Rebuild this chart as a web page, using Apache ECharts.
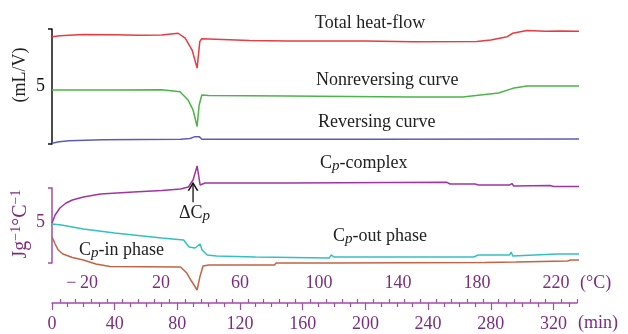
<!DOCTYPE html>
<html><head><meta charset="utf-8">
<script src="https://cdn.jsdelivr.net/npm/echarts@6/dist/echarts.min.js"></script>
<style>html,body{margin:0;padding:0;background:#fff}#c{width:628px;height:334px}</style>
</head><body><div id="c"></div>
<script>
const FONT = '"Liberation Serif", "DejaVu Serif", serif';
const PURPLE_TXT = '#7b2d7d';
const PURPLE_AX = '#a24ca8';

// Time axis (min) and temperature axis (°C)
const TIME_MAX = 335;
const TEMP_MIN = -35.2, TEMP_MAX = 230.6;
const timeTickLabels = [0, 40, 80, 120, 160, 200, 240, 280, 320];
const timeDownTicks = [10, 20, 30, 50, 60, 70, 90, 100, 110, 130, 140, 150, 170, 180, 190, 210, 220, 230, 250, 260, 270, 290, 300, 310, 330];
const timeUpTicks = [5, 15, 25, 35, 45, 55, 65, 75, 85, 95, 105, 115, 125, 135, 145, 155, 165, 175, 185, 195, 205, 215, 225, 235, 245, 255, 265, 275, 285, 295, 305, 315, 325, 335];
const tempTickLabels = [-20, 20, 60, 100, 140, 180, 220];

// Upper panel (mL/V)
const heatT = [0, 5, 20, 40, 55, 70, 80.5, 85, 89.4, 92.6, 94.3, 95.5, 100, 126, 150, 200, 230, 271, 280, 290.5, 294, 303, 315, 325, 337, 338];
const heatV = [9.33, 9.42, 9.52, 9.50, 9.45, 9.47, 9.63, 9.2, 8.17, 6.6, 8.9, 9.15, 9.13, 9.0, 8.95, 8.95, 8.9, 8.92, 9.05, 9.33, 9.63, 9.86, 9.8, 9.82, 9.8, 10.6];
const nonrevT = [0, 40, 70, 81.7, 86.8, 90, 92.6, 93.9, 95.6, 100, 150, 230, 262, 285, 294, 303, 337, 338];
const nonrevV = [4.70, 4.70, 4.72, 4.55, 3.83, 2.96, 1.52, 3.39, 4.26, 4.22, 4.17, 4.09, 4.09, 4.43, 4.84, 5.04, 5.04, 5.57];
const revT = [0, 4.5, 11, 32, 82, 88, 91.3, 93.9, 95.6, 100, 200, 338];
const revV = [0.06, 0.20, 0.29, 0.37, 0.41, 0.48, 0.64, 0.64, 0.42, 0.41, 0.41, 0.43];

// Lower panel (J g^-1 °C^-1)
const cpcT = [0, 2, 5, 9, 13, 20, 31, 52, 70, 82, 87, 90, 92.6, 94.5, 95.5, 97.7, 150, 252, 254, 270, 272, 292, 293.5, 294.5, 295.5, 318, 320, 337, 338];
const cpcV = [4.91, 5.89, 6.75, 7.36, 7.73, 8.10, 8.46, 8.71, 8.89, 9.08, 9.32, 10.18, 11.90, 9.57, 9.63, 9.81, 9.81, 9.90, 9.69, 9.69, 9.57, 9.57, 9.75, 9.45, 9.51, 9.51, 9.38, 9.38, 10.55];
const cpoT = [0, 6, 20, 40, 52, 70, 84, 87.5, 91.3, 94.5, 95.8, 99, 105, 130, 177, 178, 180, 269, 272, 292, 293, 294, 295, 322, 338];
const cpoV = [4.78, 4.66, 4.17, 3.68, 3.43, 3.07, 2.82, 1.96, 1.84, 2.33, 1.59, 0.98, 0.86, 0.74, 0.61, 0.98, 0.74, 0.74, 0.98, 0.98, 1.35, 0.86, 1.10, 1.10, 1.10];
const cpiT = [0, 2, 4, 7, 13, 20, 28, 37, 82, 86, 89, 92.6, 94.5, 96.4, 100, 142, 143, 177, 178, 276, 277, 296, 329, 331, 337, 338];
const cpiV = [3.19, 2.33, 1.59, 1.10, 0.67, 0.37, -0.12, -0.43, -0.49, -1.23, -2.21, -3.31, -1.59, -0.37, -0.25, -0.25, 0, 0, 0.06, 0.06, 0.12, 0.12, 0.25, 0.37, 0.37, -1.23];

// ΔCp arrow (time, value): tail, head
const dcpArrowT = [90, 90];
const dcpArrowV = [7.45, 9.78];

function pairs(t, v) { return t.map((x, i) => [x, v[i]]); }

const chart = echarts.init(document.getElementById('c'), null, { renderer: 'canvas' });

function lineSeries(name, t, v, color, xi, yi, extra) {
  return Object.assign({
    name, type: 'line', data: pairs(t, v), xAxisIndex: xi, yAxisIndex: yi,
    showSymbol: false, symbol: 'none', clip: false, animation: false, silent: true,
    lineStyle: { color, width: 1.5 }
  }, extra || {});
}

const subRich = (color) => ({
  n: { fontSize: 18, fontFamily: FONT, fill: color, color },
  p: { fontSize: 15, fontFamily: FONT, fontStyle: 'italic', fill: color, color, padding: [7, 0, 0, 0] }
});

function label(text, x, y, color, rich) {
  return { type: 'text', x, y, silent: true, style: { text, fontSize: 18, fontFamily: FONT, fill: color || '#222', verticalAlign: 'middle', align: 'left', rich: rich } };
}

const ARROW_HEAD = 'path://M0,10 L5,0 L10,10 L8.4,10 L5,3 L1.6,10 Z';

const option = {
  backgroundColor: '#fff',
  animation: false,
  grid: [
    { left: 52, right: 51, top: 29, height: 115 },
    { left: 52, right: 51, top: 188, height: 75 }
  ],
  xAxis: [
    { gridIndex: 0, type: 'value', min: 0, max: TIME_MAX, show: false },
    { gridIndex: 1, type: 'value', min: 0, max: TIME_MAX, position: 'bottom', offset: 40,
      axisLine: { show: true, onZero: false, lineStyle: { color: PURPLE_AX, width: 1.5 } },
      axisTick: { show: true, length: 7, customValues: timeTickLabels, lineStyle: { color: PURPLE_AX, width: 1.2 } },
      axisLabel: { customValues: timeTickLabels, color: PURPLE_TXT, fontSize: 18, fontFamily: FONT, margin: 12 },
      splitLine: { show: false } },
    { gridIndex: 1, type: 'value', min: 0, max: TIME_MAX, position: 'bottom', offset: 40,
      axisLine: { show: false, onZero: false },
      axisTick: { show: true, length: 4, customValues: timeDownTicks, lineStyle: { color: PURPLE_AX, width: 1.2 } },
      axisLabel: { show: false }, splitLine: { show: false } },
    { gridIndex: 1, type: 'value', min: 0, max: TIME_MAX, position: 'bottom', offset: 40,
      axisLine: { show: false, onZero: false },
      axisTick: { show: true, inside: true, length: 4, customValues: timeUpTicks, lineStyle: { color: PURPLE_AX, width: 1.2 } },
      axisLabel: { show: false }, splitLine: { show: false } },
    { gridIndex: 1, type: 'value', min: TEMP_MIN, max: TEMP_MAX, position: 'bottom', offset: 3,
      axisLine: { show: false, onZero: false }, axisTick: { show: false },
      axisLabel: { customValues: tempTickLabels, color: PURPLE_TXT, fontSize: 18, fontFamily: FONT, margin: 8,
        formatter: v => v < 0 ? '\u2212\u2009' + Math.abs(v) : String(v) },
      splitLine: { show: false } }
  ],
  yAxis: [
    { gridIndex: 0, type: 'value', min: 0, max: 10,
      axisLine: { show: true, onZero: false, lineStyle: { color: '#111', width: 1.5 } },
      axisTick: { show: true, length: 4, customValues: [0, 10], lineStyle: { color: '#111', width: 1.5 } },
      axisLabel: { customValues: [5], color: '#111', fontSize: 18, fontFamily: FONT, margin: 7 },
      splitLine: { show: false } },
    { gridIndex: 1, type: 'value', min: 0, max: 9.2,
      axisLine: { show: true, onZero: false, lineStyle: { color: PURPLE_AX, width: 1.5 } },
      axisTick: { show: true, length: 4, customValues: [0, 9.2], lineStyle: { color: PURPLE_AX, width: 1.5 } },
      axisLabel: { customValues: [5], color: PURPLE_TXT, fontSize: 18, fontFamily: FONT, margin: 7 },
      splitLine: { show: false } }
  ],
  series: [
    lineSeries('Total heat-flow', heatT, heatV, '#e63c42', 0, 0),
    lineSeries('Nonreversing curve', nonrevT, nonrevV, '#4cb448', 0, 0),
    lineSeries('Reversing curve', revT, revV, '#5c5cb8', 0, 0),
    lineSeries('Cp-out phase', cpoT, cpoV, '#34c0c0', 1, 1),
    lineSeries('Cp-in phase', cpiT, cpiV, '#c26444', 1, 1),
    lineSeries('Cp-complex', cpcT, cpcV, '#a034a4', 1, 1),
    {
      name: 'ΔCp arrow', type: 'line', xAxisIndex: 1, yAxisIndex: 1, clip: false, animation: false, silent: true,
      showSymbol: true, showAllSymbol: true,
      lineStyle: { color: '#111', width: 1.3 },
      itemStyle: { color: '#111', borderWidth: 0 },
      data: [
        { value: [dcpArrowT[0], dcpArrowV[0]], symbol: 'none' },
        { value: [dcpArrowT[1], dcpArrowV[1]], symbol: ARROW_HEAD, symbolSize: [11, 9], symbolOffset: [0, 3] }
      ]
    }
  ],
  graphic: [
    label('Total heat-flow', 315, 23),
    label('Nonreversing curve', 316, 80),
    label('Reversing curve', 318, 122),
    label('{n|C}{p|p}{n|-complex}', 320, 163, '#222', subRich('#222')),
    label('{n|C}{p|p}{n|-out phase}', 333, 236, '#222', subRich('#222')),
    label('{n|C}{p|p}{n|-in phase}', 79, 250, '#222', subRich('#222')),
    label('{n|\u0394C}{p|p}', 179, 213, '#222', subRich('#222')),
    { type: 'text', x: 20, y: 75, rotation: Math.PI / 2, silent: true,
      style: { text: '(mL/V)', fontSize: 18, fontFamily: FONT, fill: '#222', align: 'center', verticalAlign: 'middle' } },
    { type: 'text', x: 21, y: 224, rotation: Math.PI / 2, silent: true,
      style: { text: '{a|Jg}{s|\u22121}{a|\u00b0C}{s|\u22121}', fontSize: 20, fontFamily: FONT, fill: PURPLE_TXT, align: 'center', verticalAlign: 'middle',
        rich: { a: { fontSize: 20, fontFamily: FONT, fill: PURPLE_TXT, color: PURPLE_TXT },
                s: { fontSize: 14, fontFamily: FONT, fill: PURPLE_TXT, color: PURPLE_TXT, padding: [0, 0, 9, 0] } } } },
    { type: 'text', x: 580, y: 283, silent: true,
      style: { text: '(\u00b0C)', fontSize: 18, fontFamily: FONT, fill: PURPLE_TXT, verticalAlign: 'middle' } },
    { type: 'text', x: 578, y: 323, silent: true,
      style: { text: '(min)', fontSize: 18, fontFamily: FONT, fill: PURPLE_TXT, verticalAlign: 'middle' } }
  ]
};
chart.setOption(option);
</script>
</body></html>
